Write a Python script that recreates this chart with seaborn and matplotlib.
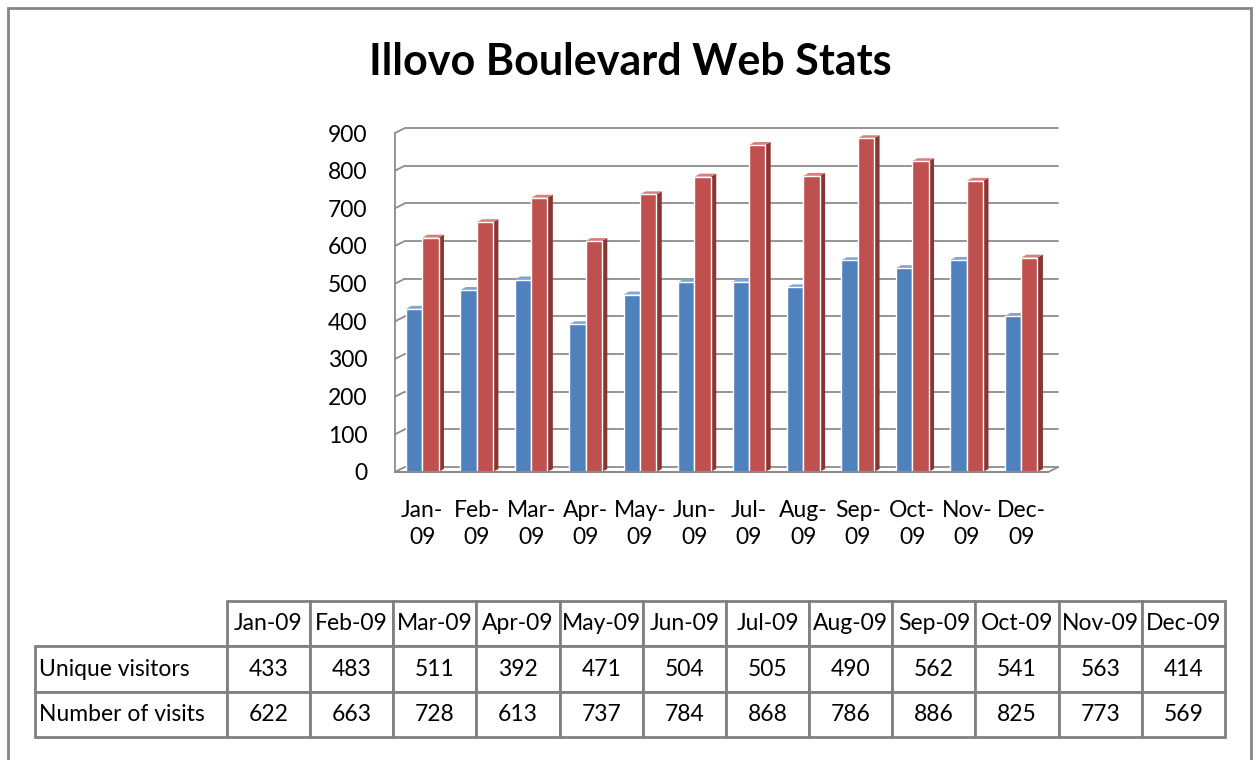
import matplotlib
matplotlib.use("Agg")
import matplotlib.pyplot as plt
import matplotlib.transforms as mtransforms
from matplotlib.patches import Rectangle, Polygon
import seaborn as sns
import pandas as pd

# data
months = ["Jan-09", "Feb-09", "Mar-09", "Apr-09", "May-09", "Jun-09",
          "Jul-09", "Aug-09", "Sep-09", "Oct-09", "Nov-09", "Dec-09"]
unique_visitors = [433, 483, 511, 392, 471, 504, 505, 490, 562, 541, 563, 414]
number_of_visits = [622, 663, 728, 613, 737, 784, 868, 786, 886, 825, 773, 569]
series_names = ["Unique visitors", "Number of visits"]
y_ticks = [0, 100, 200, 300, 400, 500, 600, 700, 800, 900]

df = pd.DataFrame({
    "month": months * 2,
    "series": [series_names[0]] * len(months) + [series_names[1]] * len(months),
    "value": unique_visitors + number_of_visits,
})

sns.set_theme(style="white")
plt.rcParams["font.family"] = ["Lato", "DejaVu Sans"]
plt.rcParams["text.color"] = "black"
plt.rcParams["xtick.color"] = "black"
plt.rcParams["ytick.color"] = "black"

fig = plt.figure(figsize=(12.59, 7.6), dpi=100)
ax = fig.add_axes([0.3137, 0.379, 0.519, 0.446])

colors = ["#4F81BD", "#C0504D"]
side_colors = ["#375F8F", "#8A3532"]
top_colors = ["#7FA3D4", "#D6807D"]
grid_c = "#8C8C8C"

# back wall gridlines, shifted up/right for the pseudo-3D look
back = mtransforms.offset_copy(ax.transData, fig=fig, x=7, y=3.5, units="points")
for t in y_ticks:
    ax.plot([-0.5, 11.5], [t, t], color=grid_c, lw=1.3, transform=back,
            clip_on=False, zorder=0)
    ax.annotate("", xy=(-0.5, t), xycoords="data", xytext=(7, 3.5),
                textcoords="offset points",
                arrowprops=dict(arrowstyle="-", color=grid_c, lw=1.3,
                                shrinkA=0, shrinkB=0))
ax.plot([-0.5, -0.5], [0, 900], color=grid_c, lw=1.3, zorder=0, clip_on=False)
# right end of the floor
ax.annotate("", xy=(11.5, 0), xycoords="data", xytext=(7, 3.5),
            textcoords="offset points",
            arrowprops=dict(arrowstyle="-", color=grid_c, lw=1.3,
                            shrinkA=0, shrinkB=0))

sns.barplot(data=df, x="month", y="value", hue="series", palette=colors,
            width=0.6, saturation=1, legend=False, ax=ax, zorder=3)

# darker side faces and lighter tops on the bars
depth = 0.1
for i, cont in enumerate(ax.containers):
    for bar in cont:
        bx0 = bar.get_x()
        bx = bx0 + bar.get_width()
        h = bar.get_height()
        ax.add_patch(Polygon([(bx, 0), (bx + depth, 8), (bx + depth, h + 8), (bx, h)],
                             closed=True, facecolor=side_colors[i],
                             edgecolor="none", zorder=2.5))
        ax.add_patch(Polygon([(bx0, h), (bx0 + depth, h + 8), (bx + depth, h + 8), (bx, h)],
                             closed=True, facecolor=top_colors[i],
                             edgecolor="none", zorder=2.6))

# front floor edge
ax.plot([-0.5, 11.5], [0, 0], color=grid_c, lw=1.5, clip_on=False, zorder=4)

ax.set_ylim(0, 900)
ax.set_xlim(-0.5, 11.5)
ax.set_yticks(y_ticks)
ax.set_xticks(range(len(months)))
ax.set_xticklabels([m.replace("-", "-\n") for m in months], linespacing=1.35)
ax.tick_params(axis="y", labelsize=16.5, length=0, pad=20)
ax.tick_params(axis="x", labelsize=16.5, length=0, pad=20)
ax.set_xlabel("")
ax.set_ylabel("")
sns.despine(ax=ax, left=True, bottom=True)
ax.patch.set_alpha(0)

fig.text(0.501, 0.919, "Illovo Boulevard Web Stats", ha="center", va="center",
         fontsize=31, fontweight="bold")

# data table below the chart
tax = fig.add_axes([35 / 1259, 1 - 737 / 760, 1190 / 1259, 136 / 760])
tax.axis("off")
cells = [[""] + months,
         [series_names[0]] + [str(v) for v in unique_visitors],
         [series_names[1]] + [str(v) for v in number_of_visits]]
col_w = [192] + [83.2] * len(months)
tbl = tax.table(cellText=cells, colWidths=[w / sum(col_w) for w in col_w],
                bbox=[0, 0, 1, 1], cellLoc="center")
tbl.auto_set_font_size(False)
for (r, c), cell in tbl.get_celld().items():
    cell.set_edgecolor("#808080")
    cell.set_linewidth(2)
    cell.get_text().set_fontsize(16.5)
    cell.get_text().set_color("black")
    if c == 0:
        cell.get_text().set_ha("left")
        cell.PAD = 0.02
    if r == 0 and c == 0:
        cell.visible_edges = ""

# outer chart border
fig.add_artist(Rectangle((8 / 1259, -0.02), 1243 / 1259, 1 - 8 / 760 + 0.02,
                         transform=fig.transFigure, fill=False,
                         edgecolor="#868686", lw=2))

fig.savefig("out.png", dpi=100)
